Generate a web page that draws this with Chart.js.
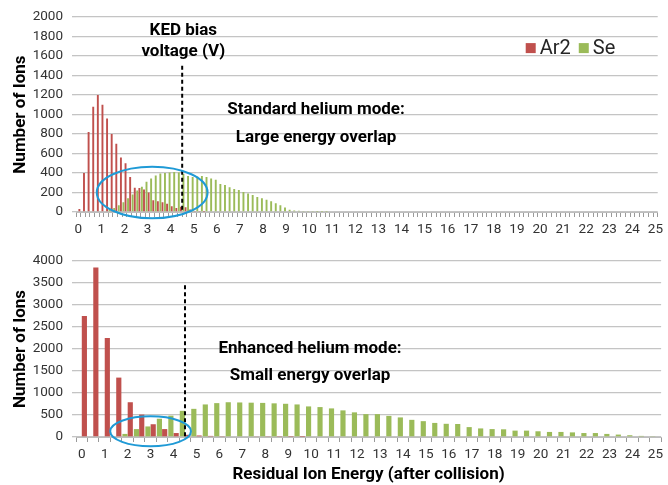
<!DOCTYPE html>
<html>
<head>
<meta charset="utf-8">
<script src="https://cdn.jsdelivr.net/npm/chart.js@4"></script>
<style>
  body { margin: 0; background: #fff; }
  #wrap { position: relative; width: 668px; height: 485px; }
  #top { position: absolute; left: 0; top: 0; }
  #bottom { position: absolute; left: 0; top: 240px; }
</style>
</head>
<body>
<div id="wrap">
  <canvas id="top" width="668" height="240"></canvas>
  <canvas id="bottom" width="668" height="245"></canvas>
</div>
<script>
// residual ion energy bins, standard helium mode (0.2 V steps)
const standardEnergy = [
  0, 0.2, 0.4, 0.6, 0.8, 1, 1.2, 1.4, 1.6, 1.8, 2, 2.2, 2.4, 2.6, 2.8,
  3, 3.2, 3.4, 3.6, 3.8, 4, 4.2, 4.4, 4.6, 4.8, 5, 5.2, 5.4, 5.6, 5.8,
  6, 6.2, 6.4, 6.6, 6.8, 7, 7.2, 7.4, 7.6, 7.8, 8, 8.2, 8.4, 8.6, 8.8,
  9, 9.2, 9.4, 9.6, 9.8, 10, 10.2, 10.4, 10.6, 10.8, 11, 11.2, 11.4, 11.6, 11.8,
  12, 12.2, 12.4, 12.6, 12.8, 13, 13.2, 13.4, 13.6, 13.8, 14, 14.2, 14.4, 14.6, 14.8,
  15, 15.2, 15.4, 15.6, 15.8, 16, 16.2, 16.4, 16.6, 16.8, 17, 17.2, 17.4, 17.6, 17.8,
  18, 18.2, 18.4, 18.6, 18.8, 19, 19.2, 19.4, 19.6, 19.8, 20, 20.2, 20.4, 20.6, 20.8,
  21, 21.2, 21.4, 21.6, 21.8, 22, 22.2, 22.4, 22.6, 22.8, 23, 23.2, 23.4, 23.6, 23.8,
  24, 24.2, 24.4, 24.6, 24.8, 25
];
const standardAr2 = [
  30, 400, 820, 1080, 1200, 1100, 960, 800, 700, 560,
  500, 360, 250, 245, 230, 200, 120, 110, 100, 85,
  60, 40, 55, 50, 25, 10, 5, 3, 0, 0,
  0, 0, 0, 0, 0, 0, 0, 0, 0, 0, 0, 0, 0, 0, 0, 0, 0, 0, 0, 0,
  0, 0, 0, 0, 0, 0, 0, 0, 0, 0, 0, 0, 0, 0, 0, 0, 0, 0, 0, 0,
  0, 0, 0, 0, 0, 0, 0, 0, 0, 0, 0, 0, 0, 0, 0, 0, 0, 0, 0, 0,
  0, 0, 0, 0, 0, 0, 0, 0, 0, 0, 0, 0, 0, 0, 0, 0, 0, 0, 0, 0,
  0, 0, 0, 0, 0, 0, 0, 0, 0, 0, 0, 0, 0, 0, 0, 0
];
const standardSe = [
  0, 0, 0, 0, 0, 0, 0, 20, 40, 70,
  100, 140, 180, 220, 260, 310, 345, 375, 395, 400,
  405, 410, 405, 390, 370, 360, 365, 370, 360, 345,
  330, 287, 277, 253, 235, 225, 205, 190, 175, 155,
  140, 125, 110, 90, 70, 45, 22, 15, 12, 10,
  6, 4, 3, 2, 2, 0, 0, 0, 0, 0,
  0, 0, 0, 0, 0, 0, 0, 0, 0, 0, 0, 0, 0, 0, 0, 0, 0, 0, 0, 0,
  0, 0, 0, 0, 0, 0, 0, 0, 0, 0, 0, 0, 0, 0, 0, 0, 0, 0, 0, 0,
  0, 0, 0, 0, 0, 0, 0, 0, 0, 0, 0, 0, 0, 0, 0, 0, 0, 0, 0, 0,
  0, 0, 0, 0, 0, 0
];

// residual ion energy bins, enhanced helium mode (0.5 V steps)
const enhancedEnergy = [
  0, 0.5, 1, 1.5, 2, 2.5, 3, 3.5, 4, 4.5, 5, 5.5, 6, 6.5, 7, 7.5, 8, 8.5,
  9, 9.5, 10, 10.5, 11, 11.5, 12, 12.5, 13, 13.5, 14, 14.5, 15, 15.5, 16, 16.5,
  17, 17.5, 18, 18.5, 19, 19.5, 20, 20.5, 21, 21.5, 22, 22.5, 23, 23.5, 24, 24.5, 25
];
const enhancedAr2 = [
  2750, 3850, 2250, 1350, 790, 510, 290, 180, 90, 50, 35, 25, 20, 15, 15, 12, 10, 8,
  5, 3, 0, 0, 0, 0, 0, 0, 0, 0, 0, 0, 0, 0, 0, 0,
  0, 0, 0, 0, 0, 0, 0, 0, 0, 0, 0, 0, 0, 0, 0, 0, 0
];
const enhancedSe = [
  0, 0, 0, 0, 70, 180, 240, 415, 485, 595, 640, 740, 770, 790, 785, 780, 775, 765,
  755, 740, 695, 680, 650, 605, 560, 520, 520, 480, 445, 390, 360, 320, 300, 295,
  225, 195, 180, 175, 145, 145, 130, 115, 115, 105, 90, 90, 70, 55, 40, 25, 10
];

const biasVoltage = 4.5;
const seriesNames = ['Ar2', 'Se'];
const ar2Color = '#C0504D';
const seColor = '#9BBB59';
const tickColor = '#333333';
const gridColor = '#c4c4c4';

// draws bias line, overlap ellipse, notes and (optionally) the legend
const overlay = {
  id: 'overlay',
  afterDatasetsDraw(chart, args, o) {
    const ctx = chart.ctx, xs = chart.scales.x, ys = chart.scales.y;
    const step = xs.getPixelForValue(1) - xs.getPixelForValue(0);
    const ex = e => xs.getPixelForValue(0) + e / o.binWidth * step;
    ctx.save();

    ctx.strokeStyle = '#000';
    ctx.lineWidth = 2;
    ctx.setLineDash([4, 3]);
    ctx.beginPath();
    ctx.moveTo(ex(biasVoltage), ys.getPixelForValue(o.lineTop));
    ctx.lineTo(ex(biasVoltage), ys.getPixelForValue(0));
    ctx.stroke();
    ctx.setLineDash([]);

    const el = o.ellipse;
    ctx.strokeStyle = '#1f9ad6';
    ctx.lineWidth = 2;
    ctx.beginPath();
    ctx.ellipse(ex(el.x), ys.getPixelForValue(el.y),
      ex(el.x + el.rx) - ex(el.x),
      ys.getPixelForValue(0) - ys.getPixelForValue(el.ry), 0, 0, Math.PI * 2);
    ctx.stroke();

    ctx.fillStyle = '#000';
    ctx.font = 'bold 17px Roboto';
    ctx.textAlign = 'center';
    ctx.textBaseline = 'middle';
    o.notes.forEach(n => ctx.fillText(n.text, ex(n.x), ys.getPixelForValue(n.y)));

    if (o.legend) {
      const a = chart.chartArea;
      let x = a.right - 132, y = a.top + 31;
      ctx.font = '20px Roboto';
      ctx.textAlign = 'left';
      chart.data.datasets.slice().reverse().forEach(ds => {
        ctx.fillStyle = ds.backgroundColor;
        ctx.fillRect(x, y - 5, 10, 10);
        ctx.fillStyle = '#262626';
        ctx.fillText(ds.label, x + 14, y + 1);
        x += 14 + ctx.measureText(ds.label).width + 8;
      });
    }
    ctx.restore();
  }
};

function makeChart(id, energy, ar2, se, cfg) {
  return new Chart(document.getElementById(id), {
    type: 'bar',
    data: {
      labels: energy,
      datasets: [
        { label: seriesNames[1], data: se, backgroundColor: seColor },
        { label: seriesNames[0], data: ar2, backgroundColor: ar2Color }
      ]
    },
    options: {
      responsive: false,
      animation: false,
      layout: { padding: { top: cfg.padTop, right: 3, left: 0, bottom: 0 } },
      datasets: { bar: { categoryPercentage: 0.92, barPercentage: cfg.barPct } },
      scales: {
        x: {
          afterFit: s => { s.height = cfg.xHeight; },
          grid: { drawOnChartArea: false, tickLength: 5, color: '#9a9a9a' },
          border: { color: '#bdbdbd' },
          ticks: {
            autoSkip: false, maxRotation: 0, padding: 5,
            color: tickColor, font: { family: 'Roboto', size: 13.5 },
            callback(v) {
              const e = this.getLabelForValue(v);
              return Number.isInteger(e) ? String(e) : '';
            }
          },
          title: {
            display: !!cfg.xTitle, text: cfg.xTitle, color: '#000',
            font: { family: 'Roboto', size: 17, weight: 'bold' },
            padding: { top: 0, bottom: 0 }
          }
        },
        y: {
          min: 0, max: cfg.yMax,
          afterFit: s => { s.width = 76; },
          border: { display: false },
          grid: { color: gridColor, lineWidth: 1.3, tickLength: 4 },
          ticks: {
            stepSize: cfg.yStep, padding: 9,
            color: tickColor, font: { family: 'Roboto', size: 13.5 },
            callback: v => String(v)
          },
          title: {
            display: true, text: 'Number of Ions', color: '#000',
            font: { family: 'Roboto', size: 17, weight: 'bold' },
            padding: { top: 11, bottom: 0 }
          }
        }
      },
      plugins: {
        legend: { display: false },
        tooltip: { enabled: false },
        overlay: cfg.overlay
      }
    },
    plugins: [overlay]
  });
}

makeChart('top', standardEnergy, standardAr2, standardSe, {
  padTop: 17, xHeight: 28, yMax: 2000, yStep: 200, barPct: 0.9,
  overlay: {
    binWidth: 0.2, lineTop: 1500, legend: true,
    ellipse: { x: 3.2, y: 200, rx: 2.4, ry: 265 },
    notes: [
      { text: 'KED bias', x: 4.55, y: 1862 },
      { text: 'voltage (V)', x: 4.55, y: 1646 },
      { text: 'Standard helium mode:', x: 10.3, y: 1048 },
      { text: 'Large energy overlap', x: 10.3, y: 763 }
    ]
  }
});

makeChart('bottom', enhancedEnergy, enhancedAr2, enhancedSe, {
  padTop: 21, xHeight: 48, yMax: 4000, yStep: 500, barPct: 0.98,
  xTitle: 'Residual Ion Energy (after collision)',
  overlay: {
    binWidth: 0.5, lineTop: 3450, legend: false,
    ellipse: { x: 3.0, y: 130, rx: 1.76, ry: 340 },
    notes: [
      { text: 'Enhanced helium mode:', x: 9.95, y: 2000 },
      { text: 'Small energy overlap', x: 9.95, y: 1395 }
    ]
  }
});
</script>
</body>
</html>
